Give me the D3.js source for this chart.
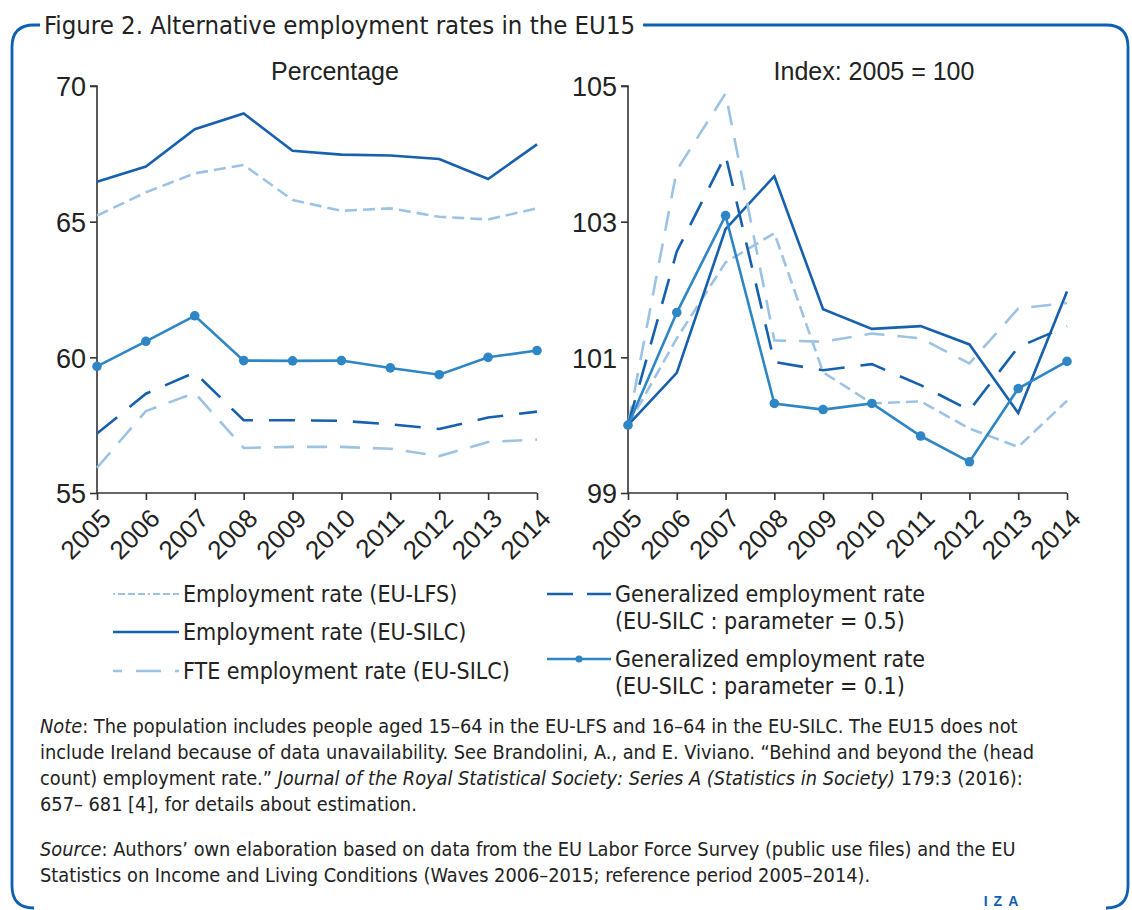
<!DOCTYPE html>
<html><head><meta charset="utf-8">
<script src="https://cdn.jsdelivr.net/npm/d3@7"></script>
<style>
body{margin:0;background:#fff;}
svg{display:block;}
</style></head>
<body>
<svg id="chart" width="1132" height="910"></svg>
<script>
// ---- data ----
const years = [2005,2006,2007,2008,2009,2010,2011,2012,2013,2014];
const seriesNames = ["Employment rate (EU-LFS)","Employment rate (EU-SILC)","FTE employment rate (EU-SILC)","Generalized employment rate (EU-SILC : parameter = 0.5)","Generalized employment rate (EU-SILC : parameter = 0.1)"];
// Left panel: percentage
const pctLFS  = [65.22,66.08,66.78,67.09,65.80,65.40,65.49,65.18,65.08,65.49];
const pctSILC = [66.47,67.03,68.41,68.99,67.61,67.47,67.44,67.31,66.57,67.85];
const pctFTE  = [55.93,58.02,58.69,56.66,56.70,56.70,56.63,56.36,56.88,56.97];
const pctG05  = [57.19,58.66,59.44,57.68,57.68,57.66,57.53,57.36,57.78,58.00];
const pctG01  = [59.67,60.59,61.53,59.88,59.87,59.88,59.61,59.36,60.00,60.25];
// Right panel: index 2005 = 100
const idxLFS  = [100,101.28,102.40,102.83,100.78,100.32,100.35,99.95,99.68,100.36];
const idxSILC = [100,100.77,102.89,103.67,101.71,101.42,101.46,101.19,100.18,101.97];
const idxFTE  = [100,103.76,104.89,101.25,101.23,101.35,101.28,100.91,101.72,101.80];
const idxG05  = [100,102.56,103.98,100.93,100.81,100.90,100.59,100.22,101.15,101.46];
const idxG01  = [100,101.66,103.09,100.32,100.23,100.32,99.84,99.46,100.54,100.94];
const leftTicks = [55,60,65,70];
const rightTicks = [99,101,103,105];

// ---- styles ----
const DARK="#1660ad", MED="#2f86c4", LIGHT="#9dc3e4", FRAME="#0c5fb1", INK="#222";
const styles = [
  {color:LIGHT, dash:"12,6", w:2.6, marker:false},
  {color:DARK,  dash:null,   w:2.6, marker:false},
  {color:LIGHT, dash:"20,13", w:2.6, marker:false},
  {color:DARK,  dash:"26,16", w:2.6, marker:false},
  {color:MED,   dash:null,   w:2.6, marker:true}
];
const NARROW = "'Liberation Sans Narrow','DejaVu Sans Condensed',sans-serif";
const REG = "'Liberation Sans','DejaVu Sans',sans-serif";

const svg = d3.select("#chart");

// title
const titleEl = svg.append("text").attr("x",44).attr("y",34)
  .attr("font-family",NARROW).attr("font-size",25.5).attr("fill",INK)
  .text("Figure 2. Alternative employment rates in the EU15");
const tEnd = 44 + titleEl.node().getComputedTextLength() + 8;

// frame
const fx0=12, fy0=25, fx1=1128, fy1=908, r=22;
svg.append("path")
  .attr("d",`M${fx0},${fy1-r} L${fx0},${fy0+r} Q${fx0},${fy0} ${fx0+r},${fy0} L40,${fy0}`)
  .attr("fill","none").attr("stroke",FRAME).attr("stroke-width",2.8);
svg.append("path")
  .attr("d",`M${tEnd},${fy0} L${fx1-r},${fy0} Q${fx1},${fy0} ${fx1},${fy0+r} L${fx1},${fy1-r} Q${fx1},${fy1} ${fx1-r},${fy1}`)
  .attr("fill","none").attr("stroke",FRAME).attr("stroke-width",2.8);
svg.append("path")
  .attr("d",`M${fx0},${fy1-r} Q${fx0},${fy1} ${fx0+r},${fy1}`)
  .attr("fill","none").attr("stroke",FRAME).attr("stroke-width",2.8);

function panel(x0,x1,y0,y1,domain,ticks,data,title,titleX){
  const x = d3.scalePoint().domain(years).range([x0,x1]);
  const y = d3.scaleLinear().domain(domain).range([y1,y0]);
  const g = svg.append("g");
  const ya = g.append("g").attr("transform",`translate(${x0},0)`)
    .call(d3.axisLeft(y).tickValues(ticks).tickSize(7).tickPadding(4).tickFormat(d3.format("d")));
  ya.select(".domain").attr("stroke","#333").attr("stroke-width",1.6).attr("d",`M-7,${y0}H0V${y1}`);
  ya.selectAll(".tick line").attr("stroke","#333").attr("stroke-width",1.6);
  ya.selectAll(".tick text").attr("font-family",REG).attr("font-size",27).attr("fill",INK).attr("dy","0.36em");
  const xa = g.append("g").attr("transform",`translate(0,${y1})`)
    .call(d3.axisBottom(x).tickSize(7).tickSizeOuter(0));
  xa.select(".domain").attr("stroke","#333").attr("stroke-width",1.6).attr("d",`M${x0},0H${x1}`);
  xa.selectAll(".tick line").attr("stroke","#333").attr("stroke-width",1.6);
  xa.selectAll(".tick text").attr("font-family",REG).attr("font-size",26).attr("fill",INK)
    .attr("text-anchor","end").attr("dy",0).attr("y",0)
    .attr("transform","translate(15,27) rotate(-45)");
  g.append("text").attr("x",titleX).attr("y",y0-6)
    .attr("text-anchor","middle").attr("font-family",REG).attr("font-size",25).attr("fill",INK).text(title);
  const line = d3.line().x((d,i)=>x(years[i])).y(d=>y(d));
  data.forEach((s,k)=>{
    const st = styles[k];
    g.append("path").datum(s).attr("d",line).attr("fill","none")
      .attr("stroke",st.color).attr("stroke-width",st.w)
      .attr("stroke-dasharray",st.dash).attr("stroke-linejoin","miter");
    if(st.marker){
      g.selectAll(null).data(s).join("circle")
        .attr("cx",(d,i)=>x(years[i])).attr("cy",d=>y(d)).attr("r",4.8).attr("fill",st.color);
    }
  });
}
panel(97,537,86,493,[55,70],leftTicks,[pctLFS,pctSILC,pctFTE,pctG05,pctG01],"Percentage",335);
panel(628,1067,86,493,[99,105],rightTicks,[idxLFS,idxSILC,idxFTE,idxG05,idxG01],"Index: 2005 = 100",874);

// legend
const leg = svg.append("g").attr("font-family",NARROW).attr("font-size",23).attr("fill",INK);
const legItems = [
  {k:0,x:113,y:594,lines:[seriesNames[0]],dash:"2,3,7,3,7,3,7,3"},
  {k:1,x:113,y:632,lines:[seriesNames[1]],dash:null},
  {k:2,x:113,y:671,lines:[seriesNames[2]],dash:"9,14,16,0"},
  {k:3,x:547,y:594,lines:["Generalized employment rate","(EU-SILC : parameter = 0.5)"],dash:"26,14,24,0"},
  {k:4,x:547,y:659,lines:["Generalized employment rate","(EU-SILC : parameter = 0.1)"],dash:null}
];
legItems.forEach(it=>{
  const st = styles[it.k];
  const len = it.x<300?66:64;
  leg.append("line").attr("x1",it.x).attr("x2",it.x+len).attr("y1",it.y).attr("y2",it.y)
    .attr("stroke",st.color).attr("stroke-width",it.k===0?2:2.6).attr("stroke-dasharray",it.dash);
  if(st.marker) leg.append("circle").attr("cx",it.x+len/2).attr("cy",it.y).attr("r",3.5).attr("fill",st.color);
  it.lines.forEach((t,j)=>{
    leg.append("text").attr("x",it.x+len+4).attr("y",it.y+8+j*27).text(t);
  });
});

// notes
const noteLines = [
  [["i","Note"],["n",": The population includes people aged 15–64 in the EU-LFS and 16–64 in the EU-SILC. The EU15 does not"]],
  [["n","include Ireland because of data unavailability. See Brandolini, A., and E. Viviano. “Behind and beyond the (head"]],
  [["n","count) employment rate.” "],["i","Journal of the Royal Statistical Society: Series A (Statistics in Society)"],["n"," 179:3 (2016):"]],
  [["n","657– 681 [4], for details about estimation."]]
];
const srcLines = [
  [["i","Source"],["n",": Authors’ own elaboration based on data from the EU Labor Force Survey (public use files) and the EU"]],
  [["n","Statistics on Income and Living Conditions (Waves 2006–2015; reference period 2005–2014)."]]
];
function para(lines,y0){
  lines.forEach((ln,i)=>{
    const t = svg.append("text").attr("x",40).attr("y",y0+i*26)
      .attr("font-family",NARROW).attr("font-size",19.8).attr("fill",INK);
    ln.forEach(([s,txt])=>{
      t.append("tspan").attr("font-style",s==="i"?"italic":"normal").text(txt);
    });
  });
}
para(noteLines,733);
para(srcLines,856);

svg.append("text").attr("x",1004).attr("y",906).attr("text-anchor","middle")
  .attr("font-family",REG).attr("font-weight","bold").attr("font-size",14)
  .attr("letter-spacing",6).attr("fill",FRAME).text("IZA");
</script>
</body></html>
